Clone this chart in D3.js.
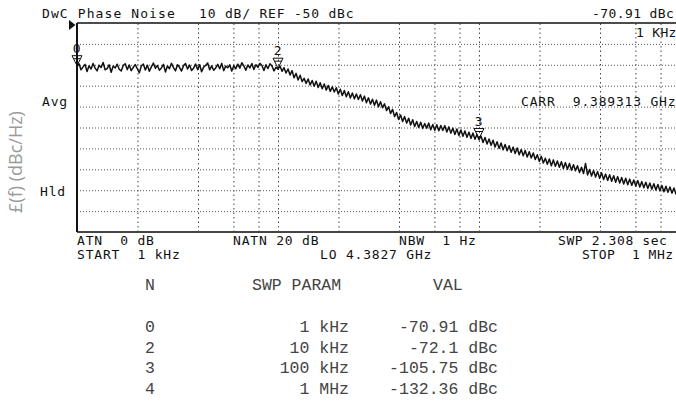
<!DOCTYPE html>
<html>
<head>
<meta charset="utf-8">
<script src="https://cdn.jsdelivr.net/npm/d3@7"></script>
<style>
  html, body { margin: 0; padding: 0; background: #fff; }
  svg { display: block; }
  .lcd { font-family: 'DejaVu Sans Mono', monospace; font-size: 13px; letter-spacing: 0.8px; fill: #111; }
  .tbl { font-family: 'Liberation Mono', 'Courier New', monospace; font-size: 16.5px; fill: #444; }
</style>
</head>
<body>
<div id="chart"></div>
<script>
// analyzer settings
const sweepStart = 1e3;
const sweepStop = 1e6;
const refLevel = -50;
const dbPerDiv = 10;
const divisions = 10;

// trace, dBc, one value per sweep point (log sweep 1 kHz .. 1 MHz, 100 pts/decade)
const traceVals = [
  // 1 kHz .. 10 kHz
  -70.9, -69.5, -72.4, -71.0, -69.8, -73.2, -70.5, -72.0, -69.4, -71.6,
  -72.9, -70.2, -71.3, -68.9, -72.4, -71.8, -70.0, -73.6, -70.6, -71.5,
  -69.7, -72.1, -73.0, -70.3, -69.5, -72.3, -70.1, -72.8, -71.2, -69.9,
  -71.9, -73.8, -70.6, -69.6, -72.5, -70.2, -73.1, -71.0, -69.2, -71.7,
  -70.3, -72.6, -71.5, -69.8, -73.4, -70.6, -71.9, -69.3, -71.3, -72.9,
  -70.0, -71.2, -73.0, -70.4, -69.4, -72.0, -70.1, -72.7, -71.6, -69.6,
  -72.3, -70.0, -73.3, -71.1, -70.3, -69.1, -72.4, -70.5, -72.6, -71.5,
  -69.8, -71.9, -69.3, -72.8, -70.6, -71.4, -70.0, -73.0, -70.4, -71.9,
  -69.7, -71.6, -69.0, -70.5, -72.6, -70.1, -71.5, -69.4, -72.2, -70.0,
  -71.2, -69.3, -70.3, -72.7, -70.0, -71.8, -69.5, -70.6, -72.9, -71.2,
  // 10 kHz .. 100 kHz
  -72.1,
  -70.6, -73.1, -71.4, -73.9, -72.0, -74.9, -72.8, -76.2, -74.1, -77.3, -75.0, -78.0, -76.5,
  -78.9, -76.8, -79.7, -77.5, -80.3, -77.9, -80.9, -78.6, -81.5, -79.2, -82.1, -79.9, -82.7, -80.5, -83.0,
  -81.0, -84.0, -81.7, -84.7, -82.3, -85.3, -82.9, -85.9, -83.5, -86.3, -84.0, -86.6,
  -84.3, -87.3, -85.0, -88.2, -85.8, -88.8, -86.5, -89.4, -86.9, -90.1, -87.7, -90.5,
  -88.7, -91.9, -90.1, -93.3, -91.3, -94.8, -92.8, -96.2,
  -94.0, -97.1, -94.8, -97.9, -95.6, -98.8, -96.3, -99.5, -97.1, -100.0,
  -97.5, -100.5, -98.1, -100.3, -97.9, -101.1, -98.6, -101.3, -98.7, -101.6, -99.0, -101.4,
  -99.1, -102.2, -99.7, -102.7, -100.3, -103.3, -100.7, -103.8, -101.2, -104.2, -101.7, -104.7,
  -102.3, -105.2, -102.7, -105.6, -103.3,
  // 100 kHz .. 1 MHz
  -105.8,
  -104.1, -107.2, -104.8, -107.9, -105.5, -108.5, -106.1, -109.3, -106.8, -110.0, -107.4, -110.7, -108.1, -111.1,
  -108.7, -111.8, -109.4, -112.4, -109.8, -113.0, -110.5, -113.5, -111.0, -114.1, -111.6, -114.6,
  -112.2, -115.3, -113.0, -116.2, -113.8, -117.0, -114.7,
  -117.6, -115.1, -118.3, -115.5, -118.5, -116.0, -119.0, -116.4, -119.6, -116.8, -120.0, -117.2, -120.4, -117.8, -120.7,
  -118.3, -121.5, -119.0, -122.0, -117.2, -122.7, -120.1, -123.2, -120.6, -123.7, -121.1, -124.3, -121.7, -124.9, -122.3,
  -125.3, -122.6, -125.7, -123.1, -126.2, -123.5, -126.6, -123.9, -127.0, -124.3, -127.4, -124.7, -127.7, -125.1, -128.0,
  -125.4, -128.5, -125.9, -128.8, -126.2, -129.2, -126.6, -129.5, -126.9, -129.9, -127.3,
  -130.3, -127.7, -130.7, -128.1, -131.0, -128.5, -131.4, -128.9, -131.8, -129.3, -132.1
];

// marker table
const markerIds = ['0', '2', '3', '4'];
const markerFreqs = [1e3, 1e4, 1e5, 1e6];
const markerParams = ['1 kHz', '10 kHz', '100 kHz', '1 MHz'];
const markerVals = [-70.91, -72.1, -105.75, -132.36];

const W = 676, H = 402;
const plot = {left: 77, top: 23, right: 680, bottom: 232};

const svg = d3.select('#chart').append('svg')
    .attr('width', W)
    .attr('height', H);
svg.append('rect').attr('width', W).attr('height', H).attr('fill', '#fff');

let x = d3.scaleLog().domain([sweepStart, sweepStop]).range([plot.left, plot.right]);
let y = d3.scaleLinear().domain([refLevel - dbPerDiv * divisions, refLevel]).range([plot.bottom, plot.top]);

// vertical grid: 2,4,6,8 of every decade plus the decades
let vGrid = x.ticks().filter(function(f) {
    let m = Math.round(f / Math.pow(10, Math.floor(Math.log10(f) + 1e-9)));
    return (m === 1 || m % 2 === 0) && f > sweepStart && f < sweepStop;
});

svg.append('g')
    .attr('transform', 'translate(0,' + plot.bottom + ')')
    .call(d3.axisBottom(x).tickValues(vGrid).tickSize(-(plot.bottom - plot.top)).tickFormat(''))
    .call(g => g.select('.domain').remove())
    .selectAll('.tick line')
    .attr('stroke', '#444')
    .attr('stroke-dasharray', '1.5,3');

svg.append('g')
    .attr('transform', 'translate(' + plot.left + ',0)')
    .call(d3.axisRight(y).tickValues(y.ticks(divisions).slice(1, -1)).tickSize(plot.right - plot.left).tickFormat(''))
    .call(g => g.select('.domain').remove())
    .selectAll('.tick line')
    .attr('stroke', '#555')
    .attr('stroke-dasharray', '1,2');

// frame
svg.append('line').attr('x1', plot.left).attr('x2', W).attr('y1', plot.top).attr('y2', plot.top)
    .attr('stroke', '#111').attr('stroke-width', 1.5);
svg.append('line').attr('x1', plot.left).attr('x2', W).attr('y1', plot.bottom).attr('y2', plot.bottom)
    .attr('stroke', '#444').attr('stroke-width', 2);
svg.append('line').attr('x1', plot.left).attr('x2', plot.left).attr('y1', plot.top).attr('y2', plot.bottom)
    .attr('stroke', '#111').attr('stroke-width', 2);
svg.append('path').attr('d', 'M69,20 L69,30 L75.5,25 Z').attr('fill', '#111');

// trace
let sweep = d3.scaleLinear().domain([0, traceVals.length - 1])
    .range([Math.log10(sweepStart), Math.log10(sweepStop)]);
let line = d3.line()
    .x(function(d, i) { return x(Math.pow(10, sweep(i))); })
    .y(function(d) { return y(d); });

svg.append('path')
    .datum(traceVals)
    .attr('fill', 'none')
    .attr('stroke', '#111')
    .attr('stroke-width', 1.5)
    .attr('stroke-linejoin', 'round')
    .attr('d', line);

// markers
let markers = markerIds.map((id, i) => ({id: id, f: markerFreqs[i], v: markerVals[i]}))
    .filter(m => x(m.f) < W - 4);
let mk = svg.append('g').selectAll('g').data(markers).join('g')
    .attr('transform', d => 'translate(' + x(d.f) + ',' + (y(d.v) - 1) + ')');
mk.append('path')
    .attr('d', 'M-5,-10 L5,-10 L0,0 Z M-3.5,-7 L3.5,-7')
    .attr('fill', 'none')
    .attr('stroke', '#111')
    .attr('stroke-width', 1);
mk.append('text')
    .attr('class', 'lcd')
    .attr('text-anchor', 'middle')
    .attr('y', -13)
    .text(d => d.id);

// screen annotations
function lcd(str, px, py, ls) {
    let t = svg.append('text').attr('class', 'lcd').attr('x', px).attr('y', py)
        .attr('xml:space', 'preserve').style('white-space', 'pre').text(str);
    if (ls !== undefined) t.style('letter-spacing', ls + 'px');
}
lcd('DwC Phase Noise', 42, 18, 1.1);
lcd('10 dB/ REF -50 dBc', 199, 18);
lcd(markerVals[0] + ' dBc', 592, 18, 0.4);
lcd(markerParams[0].replace('k', 'K'), 636, 37, 0.3);
lcd('CARR  9.389313 GHz', 521, 106);
lcd('Avg', 42, 106);
lcd('Hld', 40, 196);
lcd('ATN  0 dB', 77, 245);
lcd('START  1 kHz', 77, 259);
lcd('NATN 20 dB', 233, 245);
lcd('LO 4.3827 GHz', 320, 259);
lcd('NBW  1 Hz', 399, 245);
lcd('SWP 2.308 sec', 558, 245, 0.6);
lcd('STOP  1 MHz', 582, 259, 0.5);

// y label
svg.append('text')
    .attr('transform', 'translate(22,162) rotate(-90)')
    .attr('text-anchor', 'middle')
    .style('font-family', "'Open Sans', sans-serif")
    .style('font-size', '18px')
    .style('fill', '#9a9a9a')
    .text('£(f) (dBc/Hz)');

// marker table
let tbl = svg.append('g');
tbl.append('text').attr('class', 'tbl').attr('x', 145).attr('y', 290).text('N');
tbl.append('text').attr('class', 'tbl').attr('x', 252).attr('y', 290).text('SWP PARAM');
tbl.append('text').attr('class', 'tbl').attr('x', 433).attr('y', 290).text('VAL');

let rows = tbl.selectAll('g.row').data(markerIds).join('g')
    .attr('class', 'row')
    .attr('transform', (d, i) => 'translate(0,' + (332 + i * 20.7) + ')');
rows.append('text').attr('class', 'tbl').attr('x', 145).text(d => d);
rows.append('text').attr('class', 'tbl').attr('x', 349).attr('text-anchor', 'end')
    .text((d, i) => markerParams[i]);
rows.append('text').attr('class', 'tbl').attr('x', 498).attr('text-anchor', 'end')
    .text((d, i) => markerVals[i] + ' dBc');
</script>
</body>
</html>
